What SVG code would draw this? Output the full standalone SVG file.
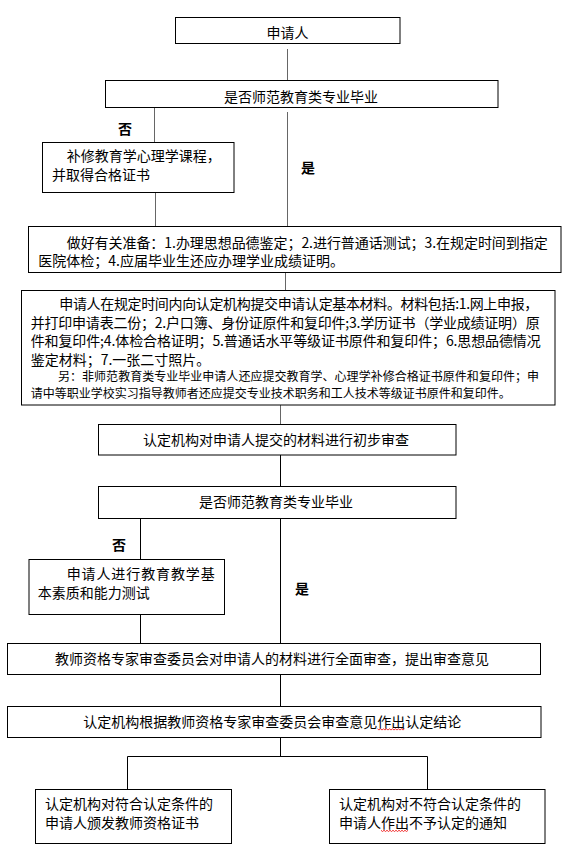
<svg xmlns="http://www.w3.org/2000/svg" width="580" height="863" viewBox="0 0 580 863">
<style>
.box{fill:#fff;stroke:#000;stroke-width:1}
.t{font-family:"Noto Sans CJK SC","Liberation Sans",sans-serif;font-size:14px;fill:#000}
.s{font-family:"Noto Sans CJK SC","Liberation Sans",sans-serif;font-size:12px;fill:#000}
.m{text-anchor:middle}
.b{font-family:"Noto Sans CJK SC","Liberation Sans",sans-serif;font-size:14px;font-weight:bold;fill:#000;text-anchor:middle}
.c{stroke:#000;stroke-width:1;fill:none}
.g{stroke:#666}
.w{stroke:#e00;stroke-width:0.8;fill:none}
</style>
<rect width="580" height="863" fill="#fff"/>
<g id="connectors">
<line class="c g" x1="287.5" y1="49" x2="287.5" y2="80"/>
<line class="c g" x1="154.5" y1="107.5" x2="154.5" y2="142.5"/>
<line class="c g" x1="287.5" y1="112" x2="287.5" y2="226.5"/>
<line class="c g" x1="155.5" y1="192.5" x2="155.5" y2="226.5"/>
<line class="c g" x1="285.5" y1="272.5" x2="285.5" y2="290"/>
<line class="c g" x1="280.5" y1="405" x2="280.5" y2="424"/>
<line class="c" x1="280.5" y1="455" x2="280.5" y2="486.5"/>
<line class="c" x1="140.5" y1="518.5" x2="140.5" y2="559.5"/>
<line class="c" x1="280.5" y1="518.5" x2="280.5" y2="643.5"/>
<line class="c" x1="140.5" y1="614.5" x2="140.5" y2="643.5"/>
<line class="c" x1="280.5" y1="674.5" x2="280.5" y2="706"/>
<path class="c" d="M280.5,737.5 V756.5 M127.5,789.5 V756.5 H427.5 V789.5"/>
</g>
<g id="n1">
<rect class="box" x="175.5" y="17.5" width="224.5" height="26"/>
<text class="t m" x="287.5" y="38">申请人</text>
</g>
<g id="n2">
<rect class="box" x="105.5" y="80.5" width="392.5" height="27"/>
<text class="t m" x="301" y="101.5">是否师范教育类专业毕业</text>
</g>
<g id="label-no-1"><text class="b" x="125" y="134">否</text></g>
<g id="n3">
<rect class="box" x="42.5" y="142.5" width="191.5" height="50"/>
<text class="t" x="66.7" y="161">补修教育学心理学课程，</text>
<text class="t" x="52" y="180">并取得合格证书</text>
</g>
<g id="label-yes-1"><text class="b" x="308" y="173">是</text></g>
<g id="n4">
<rect class="box" x="28.5" y="226.5" width="532.5" height="46"/>
<text class="t" x="66.7" y="248" textLength="481" lengthAdjust="spacing">做好有关准备：1.办理思想品德鉴定；2.进行普通话测试；3.在规定时间到指定</text>
<text class="t" x="38.3" y="266">医院体检；4.应届毕业生还应办理学业成绩证明。</text>
</g>
<g id="n5">
<rect class="box" x="21.5" y="290.5" width="533.5" height="114.5"/>
<text class="t" x="59.3" y="309" textLength="479" lengthAdjust="spacing">申请人在规定时间内向认定机构提交申请认定基本材料。材料包括:1.网上申报，</text>
<text class="t" x="30.7" y="327.5" textLength="509" lengthAdjust="spacing">并打印申请表二份；2.户口簿、身份证原件和复印件;3.学历证书（学业成绩证明）原</text>
<text class="t" x="30.7" y="346" textLength="510" lengthAdjust="spacing">件和复印件;4.体检合格证明；5.普通话水平等级证书原件和复印件；6.思想品德情况</text>
<text class="t" x="30.7" y="364.5">鉴定材料；7.一张二寸照片。</text>
<text class="s" x="58" y="381" textLength="481" lengthAdjust="spacing">另：非师范教育类专业毕业申请人还应提交教育学、心理学补修合格证书原件和复印件；申</text>
<text class="s" x="30.7" y="398">请中等职业学校实习指导教师者还应提交专业技术职务和工人技术等级证书原件和复印件。</text>
</g>
<g id="n6">
<rect class="box" x="98.5" y="424.5" width="357.5" height="30.5"/>
<text class="t m" x="276" y="444.5">认定机构对申请人提交的材料进行初步审查</text>
</g>
<g id="n7">
<rect class="box" x="98.5" y="486.5" width="357.5" height="32"/>
<text class="t m" x="276" y="507">是否师范教育类专业毕业</text>
</g>
<g id="label-no-2"><text class="b" x="119" y="550">否</text></g>
<g id="n8">
<rect class="box" x="29" y="559.5" width="195.5" height="55"/>
<text class="t" x="66.7" y="579" textLength="148" lengthAdjust="spacing">申请人进行教育教学基</text>
<text class="t" x="37.8" y="597.7">本素质和能力测试</text>
</g>
<g id="label-yes-2"><text class="b" x="302" y="594">是</text></g>
<g id="n9">
<rect class="box" x="7.5" y="643.5" width="533" height="31"/>
<text class="t" x="55" y="663.5">教师资格专家审查委员会对申请人的材料进行全面审查，提出审查意见</text>
</g>
<g id="n10">
<rect class="box" x="7.5" y="706.5" width="533.5" height="31"/>
<text class="t" x="83.3" y="726.5">认定机构根据教师资格专家审查委员会审查意见作出认定结论</text>
<path class="w" d="M377.5,728.8 l1.5,1.2 l1.5,-1.2 l1.5,1.2 l1.5,-1.2 l1.5,1.2 l1.5,-1.2 l1.5,1.2 l1.5,-1.2 l1.5,1.2 l1.5,-1.2 l1.5,1.2 l1.5,-1.2 l1.5,1.2 l1.5,-1.2 l1.5,1.2 l1.5,-1.2 l1.5,1.2 l1.5,-1.2"/>
</g>
<g id="n11">
<rect class="box" x="35.5" y="789.5" width="196" height="54"/>
<text class="t" x="45" y="809">认定机构对符合认定条件的</text>
<text class="t" x="45" y="827.7">申请人颁发教师资格证书</text>
</g>
<g id="n12">
<rect class="box" x="329.5" y="789.5" width="215.5" height="54"/>
<text class="t" x="339" y="809">认定机构对不符合认定条件的</text>
<text class="t" x="339" y="827.7">申请人作出不予认定的通知</text>
<path class="w" d="M381,830.3 l1.5,1.2 l1.5,-1.2 l1.5,1.2 l1.5,-1.2 l1.5,1.2 l1.5,-1.2 l1.5,1.2 l1.5,-1.2 l1.5,1.2 l1.5,-1.2 l1.5,1.2 l1.5,-1.2 l1.5,1.2 l1.5,-1.2 l1.5,1.2 l1.5,-1.2 l1.5,1.2 l1.5,-1.2"/>
</g>
</svg>
